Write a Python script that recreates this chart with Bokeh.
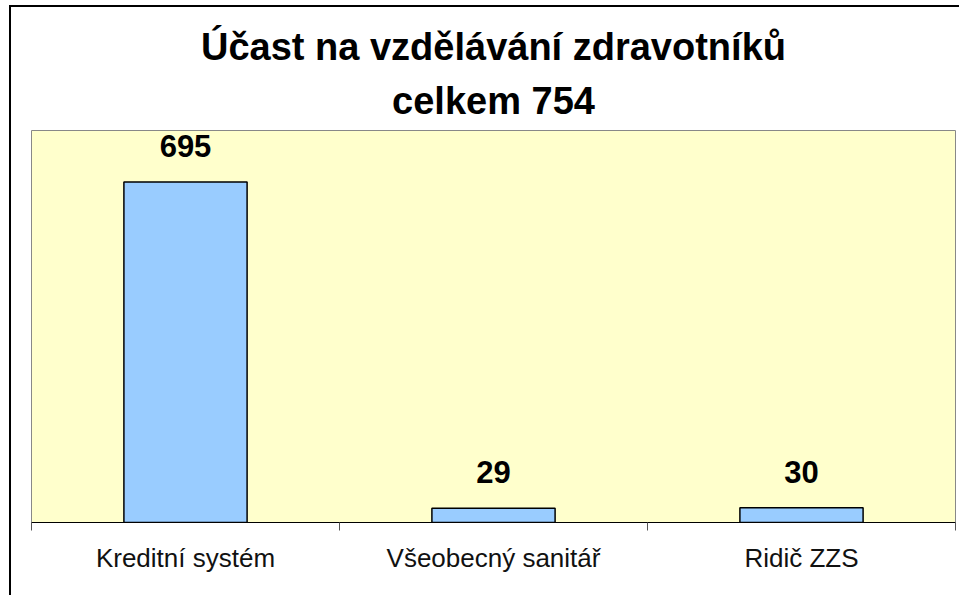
from bokeh.plotting import figure
from bokeh.models import Range1d, FixedTicker, Title, ColumnDataSource
from bokeh.core.properties import value
from bokeh.embed import file_html
from bokeh.resources import INLINE

title_line1 = "Účast na vzdělávání zdravotníků"
title_line2 = "celkem 754"
categories = ["Kreditní systém", "Všeobecný sanitář", "Ridič ZZS"]
values = [695, 29, 30]
y_max = 800

FONT = "Liberation Sans"

xs = [i + 0.5 for i in range(len(categories))]
bounds = list(range(len(categories) + 1))
src = ColumnDataSource(dict(x=xs, top=values, label=[str(v) for v in values]))

p = figure(width=948, height=588, output_backend="svg", toolbar_location=None,
           x_range=Range1d(0, len(categories)), y_range=Range1d(0, y_max),
           y_axis_location=None,
           min_border_left=20, min_border_right=6, min_border_top=123, min_border_bottom=75,
           styles={"box-sizing": "content-box",
                   "margin-left": "9px", "margin-top": "5px",
                   "border-left": "2px solid #000000",
                   "border-top": "2px solid #000000"})

p.background_fill_color = "#FFFFCC"
p.border_fill_color = "#FFFFFF"
p.outline_line_color = "#888888"
p.outline_line_width = 1
p.xgrid.visible = False
p.ygrid.visible = False

p.vbar(x="x", top="top", width=0.4, bottom=0, source=src,
       fill_color="#99CCFF", line_color="#000000", line_width=1.5)

p.text(x="x", y="top", text="label", source=src,
       text_font=value(FONT), text_font_style="bold", text_font_size="31px",
       text_align="center", text_baseline="alphabetic", y_offset=-36,
       text_color="#000000")

ax = p.xaxis[0]
ax.ticker = FixedTicker(ticks=xs, minor_ticks=bounds)
ax.major_label_overrides = {x: c for x, c in zip(xs, categories)}
ax.major_tick_out = 0
ax.major_tick_in = 0
ax.minor_tick_out = 8
ax.minor_tick_in = 0
ax.minor_tick_line_color = "#555555"
ax.axis_line_color = "#000000"
ax.axis_line_width = 1
ax.major_label_text_font = FONT
ax.major_label_text_font_size = "26px"
ax.major_label_text_color = "#111111"
ax.major_label_standoff = 12

p.add_layout(Title(text=title_line2, align="center", text_font=FONT,
                   text_font_size="38px", text_font_style="bold",
                   text_color="#000000", standoff=17), "above")
p.add_layout(Title(text=title_line1, align="center", text_font=FONT,
                   text_font_size="38px", text_font_style="bold",
                   text_color="#000000", standoff=4), "above")

open("out.html", "w").write(file_html(p, INLINE))
